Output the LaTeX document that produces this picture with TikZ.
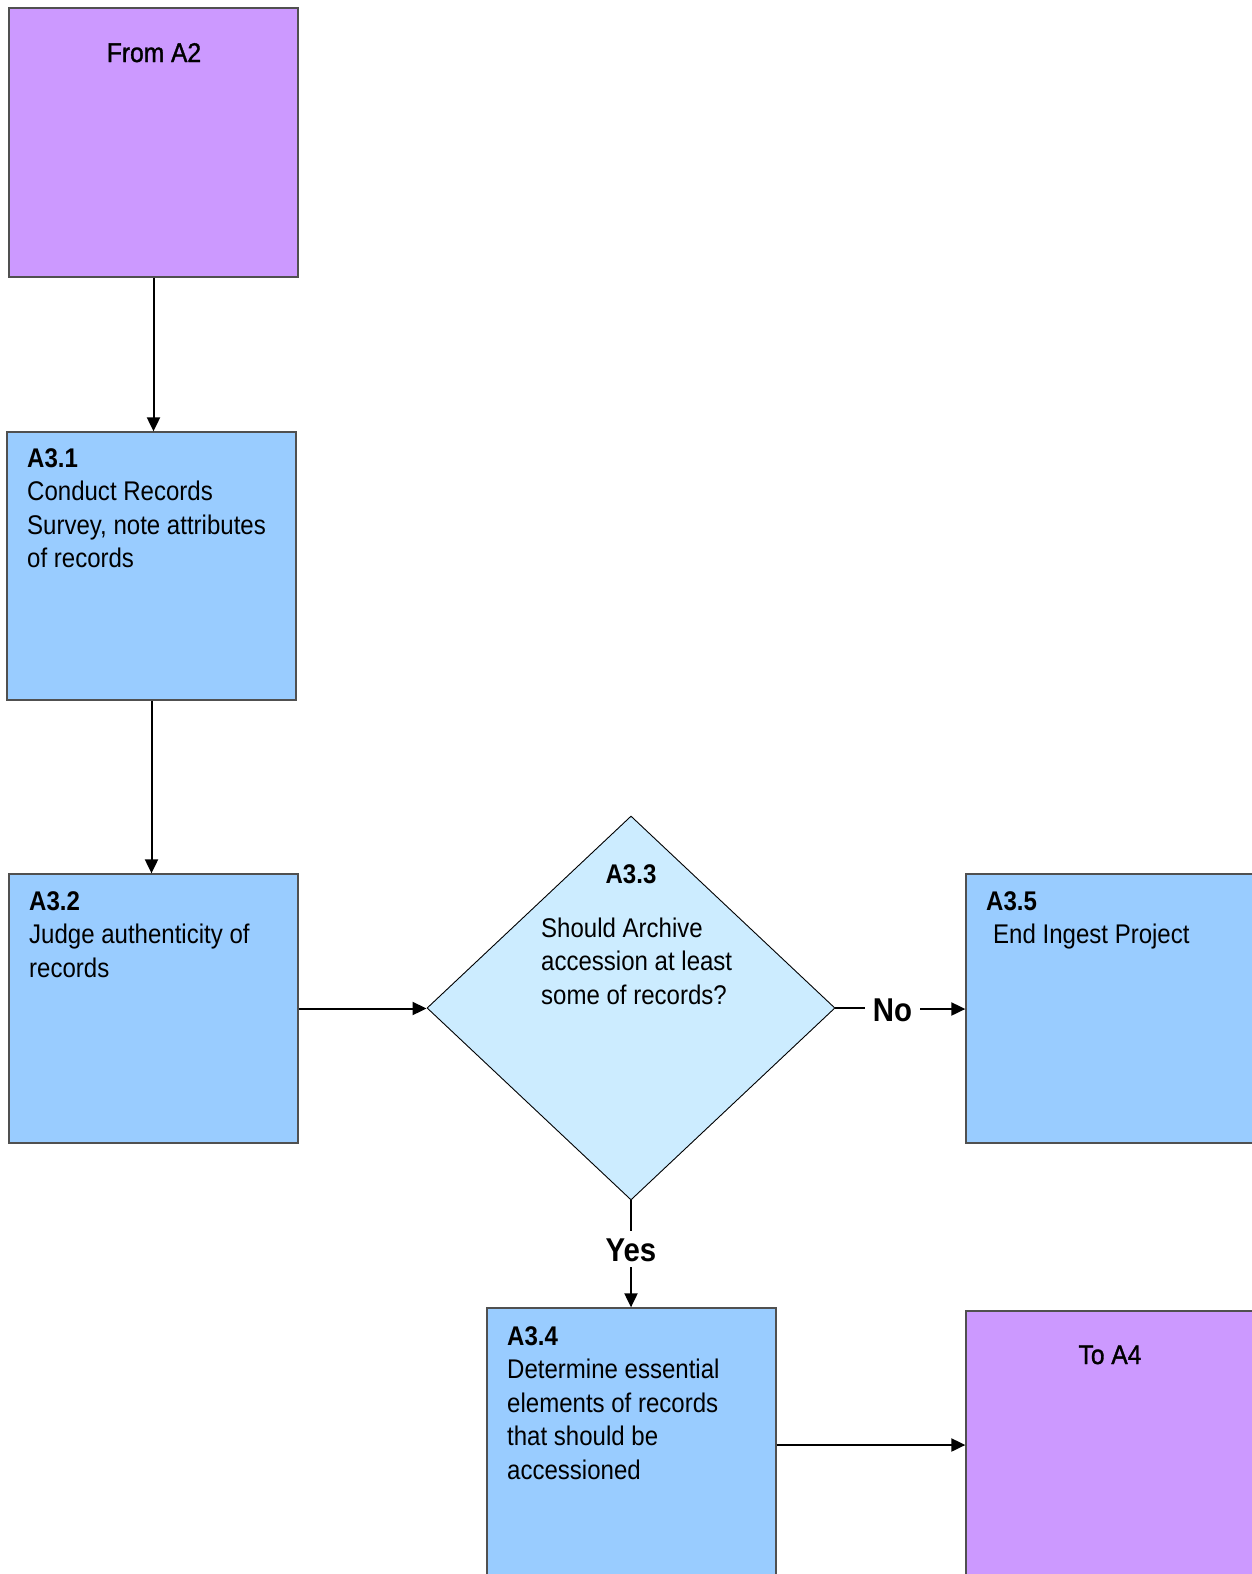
\documentclass[tikz,border=0pt]{standalone}
\usepackage{fontspec}
\setmainfont{Liberation Sans}[FakeStretch=0.89]
\newfontfamily\medfont{Liberation Sans}[FakeStretch=0.91,FakeBold=1.3]
\usetikzlibrary{shapes.geometric,arrows.meta}
\definecolor{purp}{HTML}{CC99FF}
\definecolor{blu}{HTML}{99CCFF}
\definecolor{lblu}{HTML}{CCECFF}
\definecolor{edge}{HTML}{505050}
\tikzset{
  boxp/.style={draw=edge,line width=1.3pt,fill=purp,rectangle,inner sep=0pt},
  boxb/.style={draw=edge,line width=1.3pt,fill=blu,rectangle,inner sep=0pt},
  dec/.style={draw=black,line width=0.9pt,fill=lblu,diamond,inner sep=0pt,minimum width=408pt,minimum height=384pt},
  txt/.style={anchor=base west,inner sep=0pt,align=left,font=\fontsize{27}{33.5}\selectfont},
  ctxt/.style={anchor=base,inner sep=0pt,font=\fontsize{27}{33.5}\selectfont},
  lab/.style={font=\fontsize{33}{33}\selectfont\bfseries,text height=24pt,text depth=0pt,inner xsep=8pt,inner ysep=6pt},
  conn/.style={line width=2pt,-{Triangle[length=14pt,width=13pt]}},
  plain/.style={line width=2pt}
}
\begin{document}
\begin{tikzpicture}[x=1pt,y=-1pt]
\useasboundingbox (0,0) rectangle (1252,1574);
\clip (0,0) rectangle (1252,1574);
\fill[white] (0,0) rectangle (1252,1574);
% boxes
\node[boxp,minimum width=289pt,minimum height=269pt] (fromA2) at (153.5,142.5) {};
\node[boxb,minimum width=289pt,minimum height=268pt] (a31) at (151.5,566) {};
\node[boxb,minimum width=289pt,minimum height=269pt] (a32) at (153.5,1008.5) {};
\node[dec] (d) at (631,1008) {};
\node[boxb,minimum width=300pt,minimum height=269pt] (a35) at (1116,1008.5) {};
\node[boxb,minimum width=289pt,minimum height=280pt] (a34) at (631.5,1448) {};
\node[boxp,minimum width=300pt,minimum height=280pt] (toA4) at (1116,1451) {};
% texts (anchored at the baseline of the last line)
\node[ctxt,font=\fontsize{27}{33.5}\medfont] (tfrom) at (154,62) {From A2};
\node[txt] (t31) at (27,567.5) {\textbf{A3.1}\\Conduct Records\\Survey, note attributes\\of records};
\node[txt] (t32) at (29,977) {\textbf{A3.2}\\Judge authenticity of\\records};
\node[ctxt] (t33h) at (631,883) {\textbf{A3.3}};
\node[txt] (t33) at (541,1004) {Should Archive\\accession at least\\some of records?};
\node[txt] (t35) at (986,943.5) {\textbf{A3.5}\\\hspace*{7pt}End Ingest Project};
\node[txt] (t34) at (507,1479) {\textbf{A3.4}\\Determine essential\\elements of records\\that should be\\accessioned};
\node[ctxt,font=\fontsize{27}{33.5}\medfont] (tto) at (1110,1364) {To A4};
% labels
\node[lab] (no) at (892.5,1009) {No};
\node[lab] (yes) at (631,1249) {Yes};
% connectors
\draw[conn] (fromA2.south) -- (fromA2.south |- a31.north);
\draw[conn] (a31.south) -- (a31.south |- a32.north);
\draw[conn] (a32.east) -- (a32.east -| d.west);
\draw[plain] (d.east) -- (d.east -| no.west);
\draw[conn] (no.east) -- (no.east -| a35.west);
\draw[plain] (d.south) -- (d.south |- yes.north);
\draw[conn] (yes.south) -- (yes.south |- a34.north);
\coordinate (s34) at ([yshift=3pt]a34.east);
\draw[conn] (s34) -- (s34 -| toA4.west);
\end{tikzpicture}
\end{document}
